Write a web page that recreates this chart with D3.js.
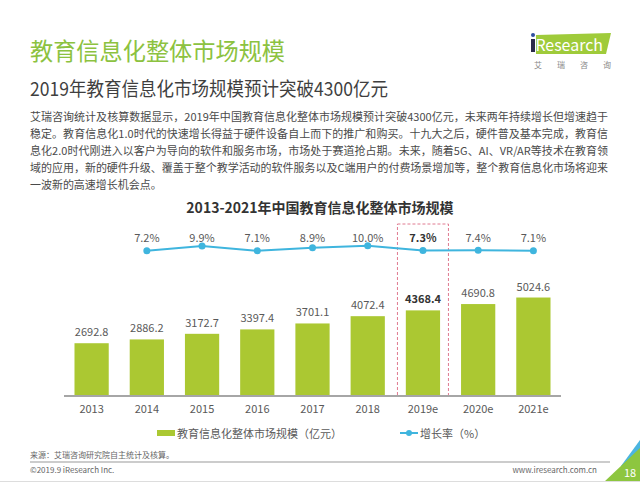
<!DOCTYPE html>
<html><head><meta charset="utf-8">
<script src="https://cdn.jsdelivr.net/npm/d3@7"></script>
<style>
html,body{margin:0;padding:0;background:#fff;}
svg{display:block;}
text{font-family:"Noto Sans CJK SC","Noto Sans",sans-serif;}
</style></head>
<body>
<script>
const categories = ["2013","2014","2015","2016","2017","2018","2019e","2020e","2021e"];
const marketSize = [2692.8,2886.2,3172.7,3397.4,3701.1,4072.4,4368.4,4690.8,5024.6];
const growthYears = ["2014","2015","2016","2017","2018","2019e","2020e","2021e"];
const growthRate = [7.2,9.9,7.1,8.9,10.0,7.3,7.4,7.1];
const highlight = "2019e";
const paragraph = [
 "艾瑞咨询统计及核算数据显示，2019年中国教育信息化整体市场规模预计突破4300亿元，未来两年持续增长但增速趋于",
 "稳定。教育信息化1.0时代的快速增长得益于硬件设备自上而下的推广和购买。十九大之后，硬件普及基本完成，教育信",
 "息化2.0时代刚进入以客户为导向的软件和服务市场，市场处于赛道抢占期。未来，随着5G、AI、VR/AR等技术在教育领",
 "域的应用，新的硬件升级、覆盖于整个教学活动的软件服务以及C端用户的付费场景增加等，整个教育信息化市场将迎来",
 "一波新的高速增长机会点。"
];

const W=640,H=483;
const svg=d3.select("body").append("svg").attr("width",W).attr("height",H);
const green="#abc832", blue="#3fb5de", txt="#595959";

// header
svg.append("text").attr("x",30).attr("y",60).attr("font-size",24).attr("fill","#8cc240")
  .attr("textLength",255).attr("lengthAdjust","spacingAndGlyphs").text("教育信息化整体市场规模");
svg.append("text").attr("x",30).attr("y",96).attr("font-size",19).attr("fill","#3f3f3f")
  .attr("textLength",358).attr("lengthAdjust","spacingAndGlyphs").text("2019年教育信息化市场规模预计突破4300亿元");

// logo
const logo=svg.append("g");
logo.append("path").attr("d","M536,35 L611,33 L606,54 L536,54 Z").attr("fill","#9fcb3a");
logo.append("text").attr("x",531).attr("y",51).attr("font-size",16).attr("font-family","Open Sans, sans-serif").attr("fill","#fff")
 .attr("textLength",72).attr("lengthAdjust","spacingAndGlyphs").text("iResearch");
logo.append("rect").attr("x",531).attr("y",39).attr("width",4).attr("height",13).attr("fill","#2b2b4b");
logo.append("circle").attr("cx",533).attr("cy",35).attr("r",2).attr("fill","#2f4f9f");
["艾","瑞","咨","询"].forEach((c,i)=>logo.append("text").attr("x",534+i*23).attr("y",68).attr("font-size",8).attr("fill","#888").text(c));

// paragraph: fit to width by measuring
const paraW=578;
const pts=paragraph.map((l,i)=>svg.append("text").attr("x",30).attr("y",121+i*17).attr("font-size",12).attr("fill","#4a4a4a").text(l));
let maxLen=0;
pts.slice(0,4).forEach(t=>{maxLen=Math.max(maxLen,t.node().getComputedTextLength());});
const fs=12*paraW/maxLen;
pts.forEach((t,i)=>{
  t.attr("font-size",fs);
  if(i<4){
    const len=t.node().getComputedTextLength();
    if(len<paraW-0.5) t.attr("textLength",paraW).attr("lengthAdjust","spacing");
  }
});

// chart title
svg.append("text").attr("x",320).attr("y",213).attr("text-anchor","middle").attr("font-size",14).attr("font-weight","bold").attr("fill","#333")
  .text("2013-2021年中国教育信息化整体市场规模");

// scales
const x=d3.scaleBand().domain(categories).range([64,561]).paddingInner(0.38).paddingOuter(0.19);
const y=d3.scaleLinear().domain([0,6000]).range([396,278.4]);
const yg=d3.scaleLinear().domain([0,12]).range([263,242.4]);
const cx=d=>x(d)+x.bandwidth()/2;

// highlight box
svg.append("rect").attr("x",cx(highlight)-25.5).attr("y",224).attr("width",51).attr("height",172)
  .attr("fill","none").attr("stroke","#e07a90").attr("stroke-width",1).attr("stroke-dasharray","3,2");

// bars
svg.selectAll("rect.bar").data(categories).join("rect").attr("class","bar")
  .attr("x",d=>x(d)).attr("width",x.bandwidth())
  .attr("y",(d,i)=>y(marketSize[i])).attr("height",(d,i)=>y(0)-y(marketSize[i])).attr("fill",green);
svg.selectAll("text.bl").data(categories).join("text").attr("class","bl")
  .attr("x",d=>cx(d)).attr("y",(d,i)=>y(marketSize[i])-7).attr("text-anchor","middle")
  .attr("font-size",11).attr("fill",d=>d===highlight?"#333":txt).attr("font-weight",d=>d===highlight?"bold":"normal")
  .text((d,i)=>marketSize[i].toFixed(1));

// axis
const ax=svg.append("g").attr("transform","translate(0,396)").call(d3.axisBottom(x).tickSize(0).tickPadding(9));
ax.select(".domain").attr("stroke","#a6a6a6").attr("stroke-width",2).attr("d","M64,0H561");
ax.selectAll("text").attr("font-size",11).attr("fill",txt).attr("font-family","Noto Sans CJK SC, sans-serif");

// line
const line=d3.line().x((d,i)=>cx(growthYears[i])).y(d=>yg(d));
svg.append("path").datum(growthRate).attr("d",line).attr("fill","none").attr("stroke",blue).attr("stroke-width",2);
svg.selectAll("circle.pt").data(growthRate).join("circle").attr("class","pt")
  .attr("cx",(d,i)=>cx(growthYears[i])).attr("cy",d=>yg(d)).attr("r",3.5).attr("fill",blue);
svg.selectAll("text.gl").data(growthRate).join("text").attr("class","gl")
  .attr("x",(d,i)=>cx(growthYears[i])).attr("y",242).attr("text-anchor","middle").attr("font-size",11)
  .attr("fill",(d,i)=>growthYears[i]===highlight?"#333":txt).attr("font-weight",(d,i)=>growthYears[i]===highlight?"bold":"normal")
  .text(d=>d.toFixed(1)+"%");

// legend
svg.append("rect").attr("x",157).attr("y",430).attr("width",18).attr("height",6).attr("fill",green);
svg.append("text").attr("x",177).attr("y",437.5).attr("font-size",11).attr("fill",txt).text("教育信息化整体市场规模（亿元）");
svg.append("line").attr("x1",400).attr("x2",418).attr("y1",433).attr("y2",433).attr("stroke",blue).attr("stroke-width",2);
svg.append("circle").attr("cx",409).attr("cy",433).attr("r",3).attr("fill",blue);
svg.append("text").attr("x",420).attr("y",437.5).attr("font-size",11).attr("fill",txt).text("增长率（%）");

// footer
svg.append("text").attr("x",30).attr("y",458).attr("font-size",8).attr("fill","#666").text("来源：艾瑞咨询研究院自主统计及核算。");
svg.append("line").attr("x1",30).attr("x2",610).attr("y1",462).attr("y2",462).attr("stroke","#999").attr("stroke-width",1);
svg.append("text").attr("x",30).attr("y",473).attr("font-size",8).attr("fill","#666").text("©2019.9 iResearch Inc.");
svg.append("text").attr("x",597).attr("y",473).attr("text-anchor","end").attr("font-size",8).attr("fill","#666").text("www.iresearch.com.cn");
svg.append("path").attr("d","M640,440 L640,466 L621,466 Z").attr("fill","#4bb5e0");
svg.append("path").attr("d","M640,448 L640,482 L604,482 Z").attr("fill","#8dc63f");
svg.append("text").attr("x",630).attr("y",477).attr("text-anchor","middle").attr("font-size",11).attr("fill","#fff").text("18");
svg.append("line").attr("x1",0).attr("x2",640).attr("y1",481.5).attr("y2",481.5).attr("stroke","#ddd").attr("stroke-width",1);
</script>
</body></html>
